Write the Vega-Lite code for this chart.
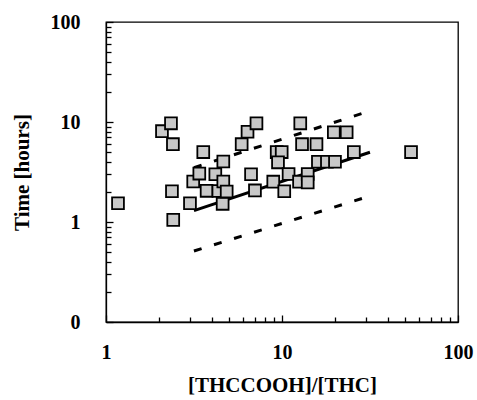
{
  "$schema": "https://vega.github.io/schema/vega-lite/v6.json",
  "width": 352,
  "height": 300,
  "autosize": {"type": "none"},
  "padding": {"left": 106, "top": 22, "right": 19, "bottom": 78},
  "background": "white",
  "config": {
    "view": {"stroke": "#000", "strokeWidth": 1.3},
    "axis": {
      "grid": false,
      "domainColor": "#000",
      "domainWidth": 1.3,
      "tickColor": "#000",
      "tickWidth": 1.3,
      "labelFont": "Liberation Serif",
      "labelFontSize": 20,
      "labelFontWeight": "bold",
      "labelColor": "#000",
      "labelOverlap": false,
      "labelFlush": false,
      "titleFont": "Liberation Serif",
      "titleFontSize": 21,
      "titleFontWeight": "bold",
      "titleColor": "#000"
    }
  },
  "datasets": {
    "points": [
      {"x": 1.17, "y": 1.54}, {"x": 2.08, "y": 8.1}, {"x": 2.34, "y": 9.7}, {"x": 2.4, "y": 6.0},
      {"x": 2.37, "y": 2.03}, {"x": 2.41, "y": 1.05}, {"x": 3.0, "y": 1.54}, {"x": 3.13, "y": 2.54},
      {"x": 3.39, "y": 3.05}, {"x": 3.57, "y": 5.0}, {"x": 3.73, "y": 2.05}, {"x": 4.18, "y": 3.0},
      {"x": 4.35, "y": 2.04}, {"x": 4.6, "y": 1.52}, {"x": 4.64, "y": 2.54}, {"x": 4.64, "y": 4.03},
      {"x": 4.85, "y": 2.02}, {"x": 5.9, "y": 6.0}, {"x": 6.37, "y": 8.0}, {"x": 7.16, "y": 9.7},
      {"x": 6.67, "y": 3.0}, {"x": 7.02, "y": 2.07}, {"x": 8.92, "y": 2.53}, {"x": 9.33, "y": 5.0},
      {"x": 9.96, "y": 5.0}, {"x": 9.49, "y": 3.95}, {"x": 10.3, "y": 2.03}, {"x": 10.9, "y": 3.02},
      {"x": 12.5, "y": 2.53}, {"x": 12.7, "y": 9.7}, {"x": 13.0, "y": 6.0}, {"x": 15.7, "y": 6.0},
      {"x": 14.0, "y": 3.02}, {"x": 14.0, "y": 2.49}, {"x": 16.0, "y": 4.0}, {"x": 18.0, "y": 4.0},
      {"x": 20.0, "y": 4.0}, {"x": 19.7, "y": 7.9}, {"x": 23.3, "y": 7.9}, {"x": 25.6, "y": 5.0},
      {"x": 54.1, "y": 5.0}
    ],
    "fit": [
      {"x": 3.16, "y": 1.3}, {"x": 31.6, "y": 4.98}
    ],
    "bounds": [
      {"series": "upper", "x": 3.16, "y": 3.5}, {"series": "upper", "x": 31.6, "y": 12.9},
      {"series": "lower", "x": 3.16, "y": 0.513}, {"series": "lower", "x": 31.6, "y": 1.82}
    ]
  },
  "encoding": {
    "x": {
      "field": "x",
      "type": "quantitative",
      "scale": {"type": "log", "domain": [1, 100], "nice": false},
      "axis": {
        "title": "[THCCOOH]/[THC]",
        "values": [1, 2, 3, 4, 5, 6, 7, 8, 9, 10, 20, 30, 40, 50, 60, 70, 80, 90, 100],
        "labelExpr": "(datum.value == 1 || datum.value == 10 || datum.value == 100) ? '' + datum.value : ''",
        "tickSize": {"condition": {"test": "datum.value == 1 || datum.value == 10 || datum.value == 100", "value": -7}, "value": -5},
        "labelPadding": 37,
        "labelBaseline": "middle",
        "titleX": 176,
        "titleY": 63,
        "titleBaseline": "middle"
      }
    },
    "y": {
      "field": "y",
      "type": "quantitative",
      "scale": {"type": "log", "domain": [0.1, 100], "nice": false},
      "axis": {
        "title": "Time [hours]",
        "values": [0.1, 0.2, 0.3, 0.4, 0.5, 0.6, 0.7, 0.8, 0.9, 1, 2, 3, 4, 5, 6, 7, 8, 9, 10, 20, 30, 40, 50, 60, 70, 80, 90, 100],
        "labelExpr": "datum.value < 0.15 ? '0' : ((datum.value == 1 || datum.value == 10 || datum.value == 100) ? '' + datum.value : '')",
        "tickSize": {"condition": {"test": "datum.value < 0.15 || datum.value == 1 || datum.value == 10 || datum.value == 100", "value": -7}, "value": -5},
        "labelPadding": 33,
        "titleX": -84,
        "titleY": 150,
        "titleBaseline": "middle",
        "titleAlign": "center"
      }
    }
  },
  "layer": [
    {
      "data": {"name": "bounds"},
      "mark": {"type": "line", "color": "#000", "strokeWidth": 3, "strokeDash": [8, 13]},
      "encoding": {"detail": {"field": "series"}}
    },
    {
      "data": {"name": "fit"},
      "mark": {"type": "line", "color": "#000", "strokeWidth": 3},
      "encoding": {}
    },
    {
      "data": {"name": "points"},
      "mark": {"type": "square", "size": 140, "fill": "#c8c8c8", "stroke": "#000", "strokeWidth": 1.8, "opacity": 1},
      "encoding": {}
    }
  ]
}
